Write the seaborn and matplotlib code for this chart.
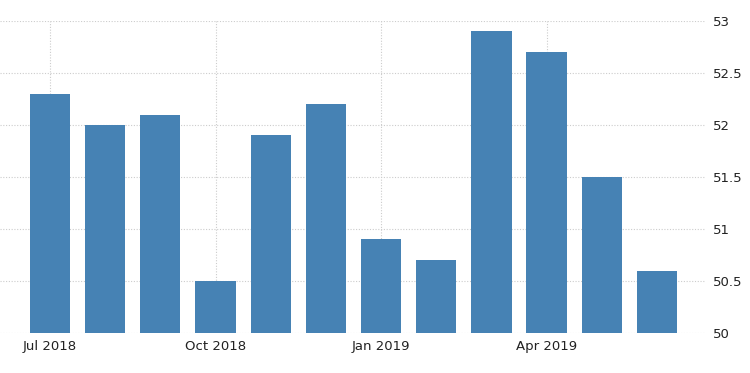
import matplotlib
matplotlib.use("Agg")
import matplotlib.pyplot as plt
import seaborn as sns
import pandas as pd

months = ["Jul 2018", "Aug 2018", "Sep 2018", "Oct 2018", "Nov 2018", "Dec 2018",
          "Jan 2019", "Feb 2019", "Mar 2019", "Apr 2019", "May 2019", "Jun 2019"]
values = [52.3, 52.0, 52.1, 50.5, 51.9, 52.2, 50.9, 50.7, 52.9, 52.7, 51.5, 50.6]
tick_labels = ["Jul 2018", "Oct 2018", "Jan 2019", "Apr 2019"]
y_ticks = [50, 50.5, 51, 51.5, 52, 52.5, 53]
y_tick_labels = ["50", "50.5", "51", "51.5", "52", "52.5", "53"]

sns.set_theme(style="white")
plt.rcParams['font.family'] = ['DejaVu Sans']

df = pd.DataFrame({"month": months, "value": values})

fig = plt.figure(figsize=(7.5, 3.73), dpi=100)
ax = fig.add_axes([0.0, 0.107, 0.94, 0.837])

sns.barplot(data=df, x="month", y="value", order=months, color="#4682B4",
            saturation=1, width=0.73, linewidth=0, ax=ax, zorder=3)

ax.set_ylim(50, 53)
ax.set_xlim(-0.906, 11.87)
ax.yaxis.tick_right()
ax.set_yticks(y_ticks)
ax.set_yticklabels(y_tick_labels)
tick_pos = [months.index(t) for t in tick_labels]
ax.set_xticks(tick_pos)
ax.set_xticklabels(tick_labels)
ax.set_xlabel("")
ax.set_ylabel("")
for s in ax.spines.values():
    s.set_visible(False)
ax.grid(True, axis="both", linestyle=(0, (1, 1.5)), color="#cccccc", linewidth=0.8, zorder=0)
ax.set_axisbelow(True)
ax.tick_params(axis="x", length=3, color="#c8c8c8", labelsize=9.5, labelcolor="#222222", pad=2)
ax.tick_params(axis="y", length=0, labelsize=9.5, labelcolor="#222222", pad=6)

fig.savefig("out.png", dpi=100)
